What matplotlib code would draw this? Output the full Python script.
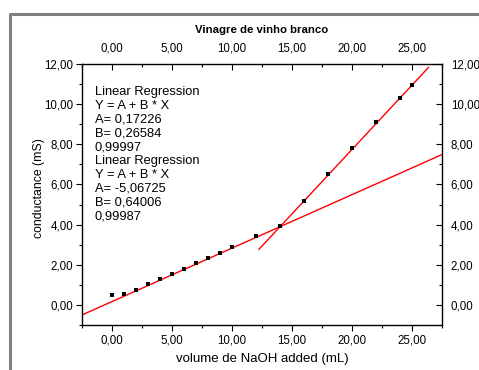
import matplotlib
matplotlib.use("Agg")
import matplotlib.pyplot as plt
import numpy as np
from matplotlib.lines import Line2D
from matplotlib.ticker import MultipleLocator, FuncFormatter

plt.rcParams["font.family"] = ["Liberation Sans", "DejaVu Sans"]

# ── data ──────────────────────────────────────────────────────────────────────
volume = [0, 1, 2, 3, 4, 5, 6, 7, 8, 9, 10, 12, 14, 16, 18, 20, 22, 24, 25]
conductance = [0.48, 0.53, 0.74, 1.02, 1.29, 1.56, 1.80, 2.08, 2.36, 2.61,
               2.89, 3.43, 3.95, 5.19, 6.53, 7.80, 9.12, 10.31, 10.97]

# fit 1: Y = A + B*X (before equivalence point)
fit1_A, fit1_B, fit1_R = 0.17226, 0.26584, "0,99997"
fit1_x = [-2.5, 27.5]
# fit 2: after equivalence point
fit2_A, fit2_B, fit2_R = -5.06725, 0.64006, "0,99987"
fit2_x = [12.25, 26.4]

title = "Vinagre de vinho branco"
xlabel = "volume de NaOH added (mL)"
ylabel = "conductance (mS)"


def comma(v, pos=None):
    return f"{v:.2f}".replace(".", ",")


def fit_text(A, B, R):
    return ("Linear Regression\nY = A + B * X\n"
            f"A= {A:.5f}".replace(".", ",") + "\n"
            f"B= {B:.5f}".replace(".", ",") + f"\n{R}")


fig = plt.figure(figsize=(4.79, 3.70), dpi=100)
ax = fig.add_axes([82.3 / 479, 1 - 325 / 370, (441.7 - 82.3) / 479, (325 - 64) / 370])

# outer gray frame (only top/left visible)
fig.add_artist(Line2D([10 / 479, 10 / 479, 1.05], [-0.05, 1 - 14 / 370, 1 - 14 / 370],
                      transform=fig.transFigure, color="#808080", lw=2.2))

ax.scatter(volume, conductance, marker="s", s=11, color="black", zorder=3, linewidths=0)

x1 = np.array(fit1_x)
ax.plot(x1, fit1_A + fit1_B * x1, color="red", lw=1.0)
x2 = np.array(fit2_x)
ax.plot(x2, fit2_A + fit2_B * x2, color="red", lw=1.0)

ax.set_xlim(-2.5, 27.5)
ax.set_ylim(-1, 12)

ax.xaxis.set_major_locator(MultipleLocator(5))
ax.xaxis.set_minor_locator(MultipleLocator(2.5))
ax.yaxis.set_major_locator(MultipleLocator(2))
ax.yaxis.set_minor_locator(MultipleLocator(1))
ax.xaxis.set_major_formatter(FuncFormatter(comma))
ax.yaxis.set_major_formatter(FuncFormatter(comma))

ax.tick_params(which="major", direction="out", length=4.5, width=0.8, labelsize=8.3, pad=2)
ax.tick_params(which="minor", direction="out", length=2.5, width=0.8)
ax.tick_params(which="both", top=True, right=True, labeltop=True, labelright=True)
for spine in ax.spines.values():
    spine.set_linewidth(1.0)

# top / right ticks point inward
for t in ax.xaxis.get_major_ticks() + ax.xaxis.get_minor_ticks():
    t.tick2line.set_marker(3)  # TICKDOWN
for t in ax.yaxis.get_major_ticks() + ax.yaxis.get_minor_ticks():
    t.tick2line.set_marker(0)  # TICKLEFT

ax.set_xlabel(xlabel, fontsize=9.5, labelpad=5)
ax.set_ylabel(ylabel, fontsize=8.8)
ax.yaxis.set_label_coords(-0.103, 0.525)
ax.set_title(title, fontsize=8.2, fontweight="bold", pad=22)

ax.text(-1.45, 10.9, fit_text(fit1_A, fit1_B, fit1_R) + "\n" + fit_text(fit2_A, fit2_B, fit2_R),
        fontsize=9.3, va="top", ha="left", linespacing=1.2)

fig.savefig("out.png", dpi=100)
